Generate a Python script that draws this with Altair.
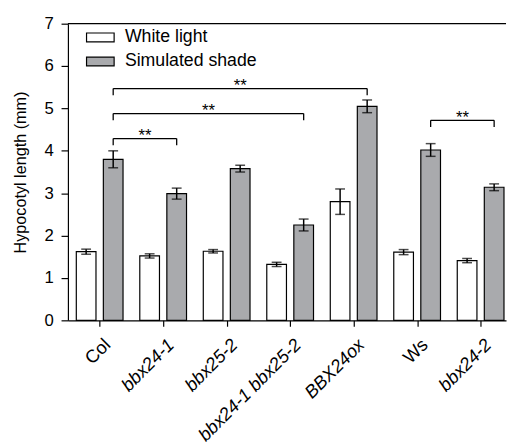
import json
import altair as alt
import pandas as pd

genotypes = ["Col", "bbx24-1", "bbx25-2", "bbx24-1 bbx25-2", "BBX24ox", "Ws", "bbx24-2"]
upright = ["Col", "Ws"]
white_mean = [1.62, 1.52, 1.63, 1.32, 2.80, 1.61, 1.41]
white_err = [0.06, 0.05, 0.04, 0.05, 0.30, 0.06, 0.05]
shade_mean = [3.80, 2.99, 3.58, 2.25, 5.05, 4.02, 3.14]
shade_err = [0.20, 0.13, 0.08, 0.14, 0.15, 0.15, 0.08]
conditions = ["White light", "Simulated shade"]

br_start = [0, 0, 0, 5]
br_end = [1, 3, 4, 6]
br_height = [4.29, 4.88, 5.47, 4.72]
br_label = ["**", "**", "**", "**"]

rows = []
for i, g in enumerate(genotypes):
    rows.append({"idx": i, "genotype": g, "cond": conditions[0], "v": white_mean[i], "e": white_err[i]})
    rows.append({"idx": i, "genotype": g, "cond": conditions[1], "v": shade_mean[i], "e": shade_err[i]})
df = pd.DataFrame(rows)
df["zero"] = 0.0
bdf = pd.DataFrame({"s": br_start, "t": br_end, "h": br_height, "lab": br_label})

OFF = 0.213
HALF = 0.155
DROP = 0.16

xscale = alt.Scale(domain=[-0.5, 6.4], nice=False, zero=False)
yscale = alt.Scale(domain=[0, 7], nice=False)

label_expr = json.dumps(genotypes) + "[datum.value]"
upright_test = " || ".join([f"datum.value == {genotypes.index(u)}" for u in upright])

FONT = "Liberation Sans"
xaxis = alt.Axis(
    values=list(range(len(genotypes))), labelExpr=label_expr, title=None, grid=False,
    labelAngle=-45, labelAlign="right", labelBaseline="top", labelFontSize=18.5,
    labelPadding=9, labelOffset=1, tickSize=6, labelFont=FONT, domainColor="black",
    tickColor="black", labelColor="black", labelLimit=300, labelOverlap=False,
    labelFontStyle={"condition": {"test": upright_test, "value": "normal"}, "value": "italic"},
)
yaxis = alt.Axis(
    values=list(range(8)), title="Hypocotyl length (mm)", grid=False, tickSize=7,
    labelFontSize=17, titleFontSize=16.5, titleFontWeight="normal", labelFont=FONT,
    titleFont=FONT, domainColor="black", tickColor="black", labelColor="black",
    titleColor="black", titlePadding=16, labelPadding=8,
)

base = alt.Chart(df).transform_calculate(
    pos=f"datum.idx + (datum.cond == '{conditions[0]}' ? {-OFF} : {OFF})"
).transform_calculate(
    x1=f"datum.pos - {HALF}", x2=f"datum.pos + {HALF}",
    lo="datum.v - datum.e", hi="datum.v + datum.e",
)

bars = base.mark_bar(stroke="black", strokeWidth=1.2).encode(
    x=alt.X("x1:Q", scale=xscale, axis=xaxis),
    x2="x2:Q",
    y=alt.Y("v:Q", scale=yscale, axis=yaxis),
    y2="zero:Q",
    fill=alt.Fill("cond:N", scale=alt.Scale(domain=conditions, range=["white", "#a9aaad"]),
                  sort=conditions,
                  legend=alt.Legend(
                      title=None, orient="none", legendX=20, legendY=1,
                      symbolType="M-1.17,-0.375L1.17,-0.375L1.17,0.375L-1.17,0.375Z", symbolSize=576,
                      symbolStrokeColor="black", symbolStrokeWidth=1.2, labelFontSize=18,
                      labelFont=FONT, labelColor="black", rowPadding=2.5,
                      labelOffset=12, symbolOpacity=1)),
)

err = base.mark_rule(color="black", strokeWidth=1.5).encode(
    x="pos:Q", y="lo:Q", y2="hi:Q"
)
cap_hi = base.mark_tick(color="black", orient="horizontal", size=10, thickness=1.5).encode(
    x="pos:Q", y="hi:Q"
)
cap_lo = base.mark_tick(color="black", orient="horizontal", size=10, thickness=1.5).encode(
    x="pos:Q", y="lo:Q"
)

bbase = alt.Chart(bdf).transform_calculate(
    xs=f"datum.s + {OFF}", xe=f"datum.t + {OFF}", yl=f"datum.h - {DROP}",
    xm=f"(datum.s + datum.t) / 2 + {OFF}",
)
bh = bbase.mark_rule(color="black", strokeWidth=1.3).encode(x="xs:Q", x2="xe:Q", y="h:Q")
bl = bbase.mark_rule(color="black", strokeWidth=1.3).encode(x="xs:Q", y="yl:Q", y2="h:Q")
brr = bbase.mark_rule(color="black", strokeWidth=1.3).encode(x="xe:Q", y="yl:Q", y2="h:Q")
stars = bbase.mark_text(fontSize=17, font=FONT, baseline="alphabetic", dy=3,
                        color="black", fill="black").encode(x="xm:Q", y="h:Q", text="lab:N")

top = alt.Chart(pd.DataFrame({"t": [7]})).mark_rule(color="black", strokeWidth=1.2).encode(
    y=alt.Y("t:Q", scale=yscale)
)

chart = alt.layer(bars, err, cap_hi, cap_lo, bh, bl, brr, stars, top).properties(
    width=446, height=302, padding={"left": 4, "top": 3, "right": 0, "bottom": 0}
).configure_view(stroke=None).configure_axis(domainWidth=1.2, tickWidth=1.2)

chart.save("out.html", embed_options={"renderer": "svg", "actions": False})
